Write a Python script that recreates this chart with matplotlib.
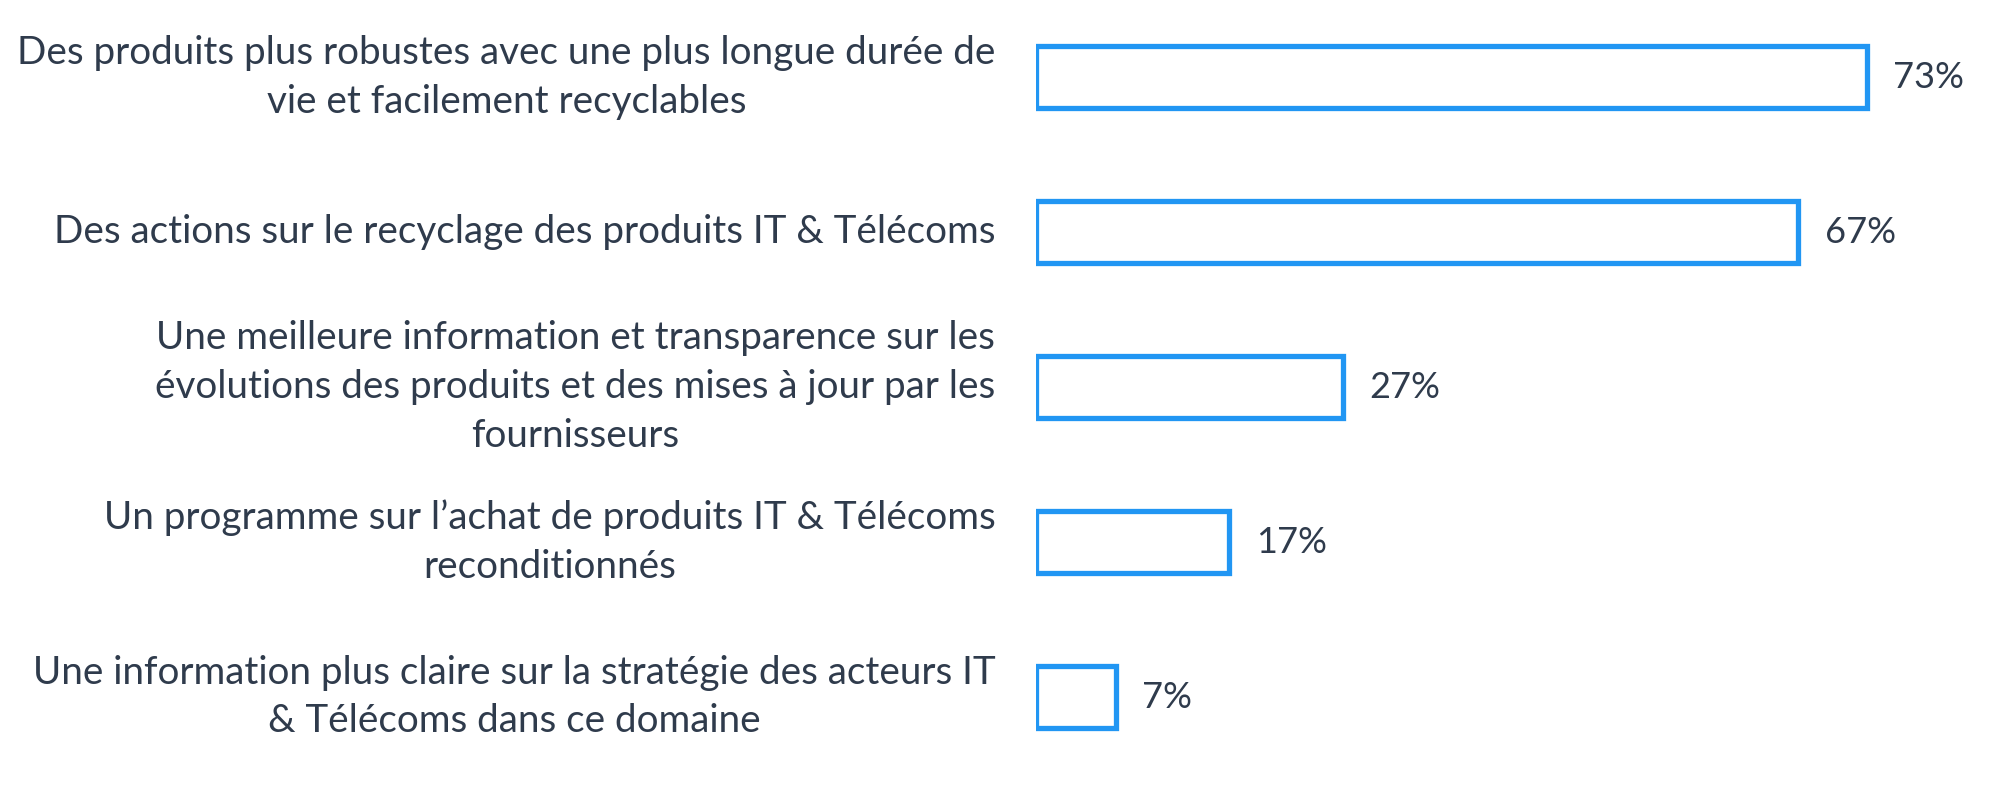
import matplotlib
matplotlib.use("Agg")
from matplotlib import pyplot as plt

labels = [
    "Des produits plus robustes avec une plus longue durée de\nvie et facilement recyclables",
    "Des actions sur le recyclage des produits IT & Télécoms",
    "Une meilleure information et transparence sur les\névolutions des produits et des mises à jour par les\nfournisseurs",
    "Un programme sur l’achat de produits IT & Télécoms\nreconditionnés",
    "Une information plus claire sur la stratégie des acteurs IT\n& Télécoms dans ce domaine",
]
values = [73, 67, 27, 17, 7]

BLUE = "#2196F3"
TEXT = "#2F3B4C"

plt.rcParams["font.family"] = ["Lato", "DejaVu Sans"]

fig = plt.figure(figsize=(19.92, 8.08), dpi=100)
ax = fig.add_axes([0.520, 0.0415, 0.480, 0.9585])

positions = list(range(len(values)))
ax.barh(
    positions,
    values,
    height=0.4,
    color="white",
    edgecolor=BLUE,
    linewidth=3.8,
)

for pos, val, lab in zip(positions, values, labels):
    ax.annotate(
        lab,
        xy=(0, pos),
        xytext=(-29, 0),
        textcoords="offset points",
        ha="right",
        va="center",
        multialignment="center",
        fontsize=27.8,
        color=TEXT,
        linespacing=1.44,
    )
    ax.annotate(
        f"{val}%",
        xy=(val, pos),
        xytext=(19, 0),
        textcoords="offset points",
        ha="left",
        va="center",
        fontsize=26,
        color=TEXT,
    )

ax.set_xlim(0, 84.0)
ax.set_ylim(len(values) - 0.5, -0.5)
ax.axis("off")

fig.savefig("out.png", dpi=100, facecolor="white")
